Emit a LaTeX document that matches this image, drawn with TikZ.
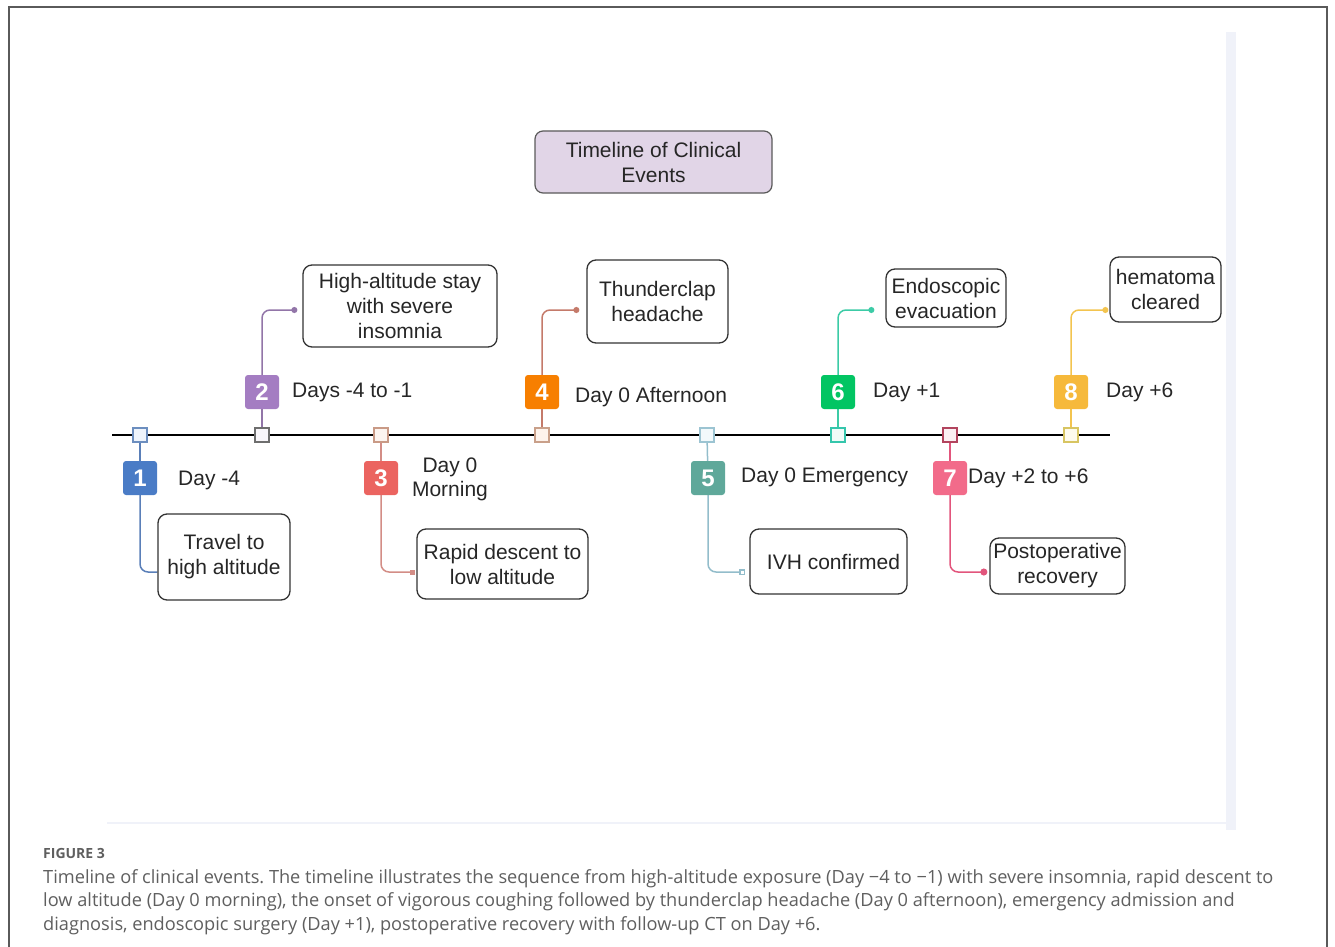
\documentclass[tikz,border=0pt]{standalone}
\usepackage{fontspec}
\setmainfont{Liberation Sans}
\newfontfamily\capfont{Open Sans}
\usepackage{tikz}
\usetikzlibrary{arrows.meta,backgrounds,calc}
\usepackage{xcolor}
\frenchspacing

\definecolor{textgray}{HTML}{262626}
\definecolor{boxline}{HTML}{333333}
\definecolor{framegray}{HTML}{5A5A5A}
\definecolor{capgray}{HTML}{5F5F5F}
\definecolor{faint}{HTML}{F0F2F9}
\definecolor{titlefill}{HTML}{E1D5E7}
\definecolor{bc1}{HTML}{4A7CC6}\definecolor{lc1}{HTML}{5A7FB8}\definecolor{sd1}{HTML}{6C8EBF}\definecolor{sf1}{HTML}{EEF4FC}
\definecolor{bc2}{HTML}{A47DC2}\definecolor{lc2}{HTML}{9275A8}\definecolor{sd2}{HTML}{6E6E6E}\definecolor{sf2}{HTML}{F8F6FA}
\definecolor{bc3}{HTML}{EB6460}\definecolor{lc3}{HTML}{D38D86}\definecolor{sd3}{HTML}{C99A86}\definecolor{sf3}{HTML}{FCF4EF}
\definecolor{bc4}{HTML}{F77F00}\definecolor{lc4}{HTML}{C47A6A}\definecolor{sd4}{HTML}{C9A08A}\definecolor{sf4}{HTML}{FDF3EC}
\definecolor{bc5}{HTML}{5FA89A}\definecolor{lc5}{HTML}{93BDCB}\definecolor{sd5}{HTML}{9CC4D2}\definecolor{sf5}{HTML}{F2F9FB}
\definecolor{bc6}{HTML}{02C563}\definecolor{lc6}{HTML}{3CCBA6}\definecolor{sd6}{HTML}{35C6AC}\definecolor{sf6}{HTML}{F0FBF8}
\definecolor{bc7}{HTML}{F26B8A}\definecolor{lc7}{HTML}{E2557C}\definecolor{sd7}{HTML}{B2445E}\definecolor{sf7}{HTML}{FBF0F3}
\definecolor{bc8}{HTML}{F6B93B}\definecolor{lc8}{HTML}{F3C44F}\definecolor{sd8}{HTML}{D8C562}\definecolor{sf8}{HTML}{FDFAEC}

\tikzstyle{tickbox}=[
  draw, minimum size=14pt, inner sep=0pt, line width=1.2pt
]
\tikzstyle{badge}=[
  rounded corners=3pt, minimum width=34pt, minimum height=34pt, inner sep=0pt,
  text=white, font=\fontsize{24}{24}\selectfont\bfseries
]
\tikzstyle{event}=[
  draw=boxline, line width=1.3pt, rounded corners=9pt, fill=white, align=center,
  inner sep=0pt, text=textgray, font=\fontsize{21}{25}\selectfont
]
\tikzstyle{day}=[
  inner sep=0pt, text=textgray, font=\fontsize{21}{24}\selectfont
]
\tikzstyle{link}=[
  line width=1.5pt, rounded corners=8pt
]

\begin{document}
\begin{tikzpicture}[x=1pt,y=-1pt]
    \useasboundingbox (0,0) rectangle (1335,947);
    % frame and faint edges of the pasted image
    \draw [framegray, line width=1.5pt] (9,947) -- (9,7) -- (1327,7) -- (1327,947);
    \fill [faint] (1226,32) rectangle (1236,830);
    \draw [faint, line width=1.5pt] (107,823) -- (1236,823);

    \node (title) at (653.5,162) [draw=framegray, fill=titlefill, rounded corners=8pt, line width=1.2pt,
      minimum width=237pt, minimum height=62pt, align=center, inner sep=0pt, text=textgray,
      font=\fontsize{21}{25}\selectfont] {Timeline of Clinical\\Events};

    % time axis
    \coordinate (t0) at (112,435);
    \coordinate (t1) at (1110,435);
    \draw [line width=1.8pt] (t0) -- (t1);

    \node (s1) at (140,435) [tickbox, draw=sd1, fill=sf1] {};
    \node (s2) at (262,435) [tickbox, draw=sd2, fill=sf2] {};
    \node (s3) at (381,435) [tickbox, draw=sd3, fill=sf3] {};
    \node (s4) at (542,435) [tickbox, draw=sd4, fill=sf4] {};
    \node (s5) at (707,435) [tickbox, draw=sd5, fill=sf5] {};
    \node (s6) at (838,435) [tickbox, draw=sd6, fill=sf6] {};
    \node (s7) at (950,435) [tickbox, draw=sd7, fill=sf7] {};
    \node (s8) at (1071,435) [tickbox, draw=sd8, fill=sf8] {};

    % numbered badges
    \node (n1) at (140,478) [badge, fill=bc1] {1};
    \node (n2) at (262,392) [badge, fill=bc2] {2};
    \node (n3) at (381,478) [badge, fill=bc3] {3};
    \node (n4) at (542,392) [badge, fill=bc4] {4};
    \node (n5) at (708,478) [badge, fill=bc5] {5};
    \node (n6) at (838,392) [badge, fill=bc6] {6};
    \node (n7) at (950,478) [badge, fill=bc7] {7};
    \node (n8) at (1071,392) [badge, fill=bc8] {8};

    \node (d1) at (178,480) [day, anchor=west] {Day -4};
    \node (d2) at (292,392) [day, anchor=west] {Days -4 to -1};
    \node (d3) at (450,479) [day, align=center] {Day 0\\Morning};
    \node (d4) at (575,397) [day, anchor=west] {Day 0 Afternoon};
    \node (d5) at (741,477) [day, anchor=west] {Day 0 Emergency};
    \node (d6) at (873,392) [day, anchor=west] {Day +1};
    \node (d7) at (968,478) [day, anchor=west] {Day +2 to +6};
    \node (d8) at (1106,392) [day, anchor=west] {Day +6};

    % event boxes
    \node (e1) at (224,557) [event, minimum width=132pt, minimum height=86pt] {Travel to\\high altitude};
    \node (e2) at (400,306) [event, minimum width=194pt, minimum height=82pt] {High-altitude stay\\with severe\\insomnia};
    \node (e3) at (502.5,564) [event, minimum width=171pt, minimum height=70pt] {Rapid descent to\\low altitude};
    \node (e4) at (657.5,301.5) [event, minimum width=141pt, minimum height=83pt] {Thunderclap\\headache};
    \node (e5) at (828.5,561.5) [event, minimum width=157pt, minimum height=65pt] {\hspace{10pt}IVH confirmed};
    \node (e6) at (946,298) [event, minimum width=120pt, minimum height=58pt] {Endoscopic\\evacuation};
    \node (e7) at (1057.5,566) [event, minimum width=135pt, minimum height=56pt] {Postoperative\\recovery};
    \node (e8) at (1165.5,289.5) [event, minimum width=111pt, minimum height=65pt] {hematoma\\cleared};

    \coordinate (up) at (0,310);
    \coordinate (dn) at (0,572);

    \begin{scope}[on background layer]
      \draw [link, lc1] (s1) -- (n1);
      \draw [link, lc2] (s2) -- (n2);
      \draw [link, lc3] (s3) -- (n3);
      \draw [link, lc4] (s4) -- (n4);
      \draw [link, lc5] (s5) -- (n5);
      \draw [link, lc6] (s6) -- (n6);
      \draw [link, lc7] (s7) -- (n7);
      \draw [link, lc8] (s8) -- (n8);
      \draw [link, lc1] (n1.south) |- (dn -| e1.west);
      \draw [link, lc2, -{Circle[length=6pt]}] (n2.north) |- ([xshift=-5pt]up -| e2.west);
      \draw [link, lc3, -{Square[length=5pt]}] (n3.south) |- ([xshift=-1pt]dn -| e3.west);
      \draw [link, lc4, -{Circle[length=6pt]}] (n4.north) |- ([xshift=-7pt]up -| e4.west);
      \draw [link, lc5, -{Square[open,length=6pt]}] (n5.south) |- ([xshift=-4pt]dn -| e5.west);
      \draw [link, lc6, -{Circle[length=6pt]}] (n6.north) |- ([xshift=-11pt]up -| e6.west);
      \draw [link, lc7, -{Circle[length=7pt]}] (n7.south) |- ([xshift=-2pt]dn -| e7.west);
      \draw [link, lc8, -{Circle[length=6pt]}] (n8.north) |- ([xshift=-1pt]up -| e8.west);
    \end{scope}

    % caption
    \node (fig) at (43,853) [anchor=west, inner sep=0pt, text=capgray,
      font=\capfont\bfseries\fontsize{14}{16}\selectfont] {FIGURE 3};
    \node (cap) at (43,869) [anchor=north west, inner sep=0pt, align=left, text=capgray,
      font=\capfont\fontsize{18.2}{23.6}\selectfont]
      {Timeline of clinical events. The timeline illustrates the sequence from high-altitude exposure (Day −4 to −1) with severe insomnia, rapid descent to\\
       low altitude (Day 0 morning), the onset of vigorous coughing followed by thunderclap headache (Day 0 afternoon), emergency admission and\\
       diagnosis, endoscopic surgery (Day +1), postoperative recovery with follow-up CT on Day +6.};
\end{tikzpicture}
\end{document}
